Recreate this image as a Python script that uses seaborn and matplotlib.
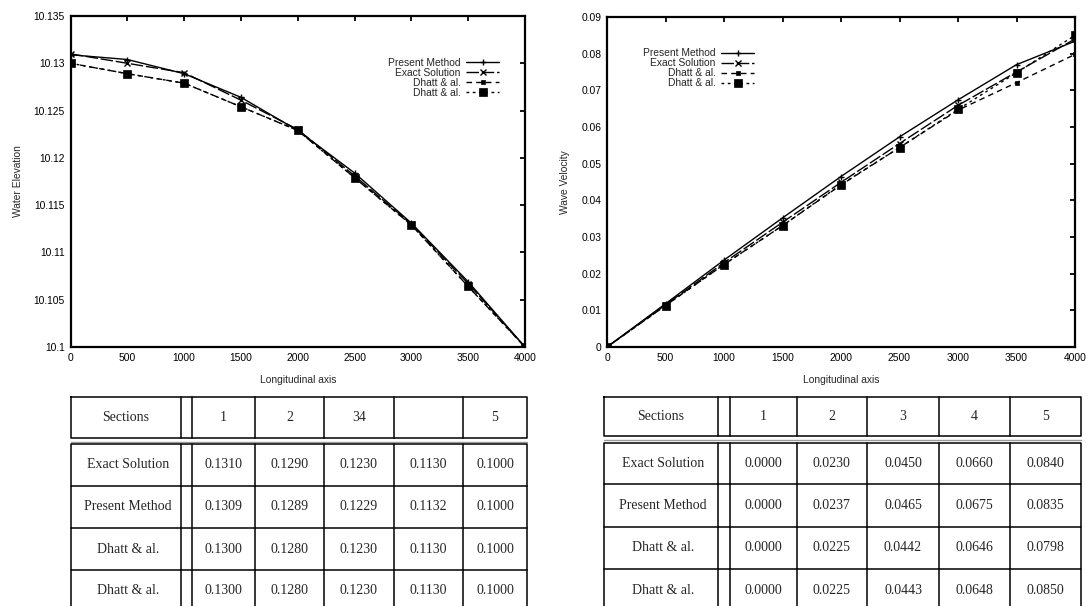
import numpy as np
import pandas as pd
import matplotlib
matplotlib.use("Agg")
import matplotlib.pyplot as plt
import seaborn as sns

# ---------------- data ----------------
x_pos = [0, 500, 1000, 1500, 2000, 2500, 3000, 3500, 4000]

elev_present = [10.1309, 10.1304, 10.1289, 10.1264, 10.1229, 10.1184, 10.1131, 10.1069, 10.1000]
elev_exact = [10.1310, 10.1300, 10.1290, 10.1261, 10.1230, 10.1181, 10.1130, 10.1067, 10.1000]
elev_dhatt1 = [10.1300, 10.1289, 10.1279, 10.1254, 10.1229, 10.1179, 10.1129, 10.1064, 10.1000]
elev_dhatt2 = [10.1300, 10.1289, 10.1279, 10.1254, 10.1229, 10.1179, 10.1129, 10.1064, 10.1000]

vel_present = [0.0, 0.0118, 0.0237, 0.0352, 0.0465, 0.0573, 0.0674, 0.0770, 0.0834]
vel_exact = [0.0, 0.0115, 0.0230, 0.0340, 0.0449, 0.0555, 0.0659, 0.0750, 0.0840]
vel_dhatt1 = [0.0, 0.0113, 0.0225, 0.0331, 0.0442, 0.0544, 0.0646, 0.0721, 0.0798]
vel_dhatt2 = [0.0, 0.0113, 0.0225, 0.0331, 0.0443, 0.0544, 0.0648, 0.0748, 0.0850]

series_names = ["Present Method", "Exact Solution", "Dhatt & al.", "Dhatt & al."]

x_ticks = [0, 500, 1000, 1500, 2000, 2500, 3000, 3500, 4000]
elev_ticks = [10.1, 10.105, 10.11, 10.115, 10.12, 10.125, 10.13, 10.135]
elev_tick_labels = ["10.1", "10.105", "10.11", "10.115", "10.12", "10.125", "10.13", "10.135"]
vel_ticks = [0, 0.01, 0.02, 0.03, 0.04, 0.05, 0.06, 0.07, 0.08, 0.09]
vel_tick_labels = ["0", "0.01", "0.02", "0.03", "0.04", "0.05", "0.06", "0.07", "0.08", "0.09"]

# tables
table_row_labels = ["Exact Solution", "Present Method", "Dhatt & al.", "Dhatt & al."]
left_headers = ["1", "2", "34", "", "5"]
left_values = [
    ["0.1310", "0.1290", "0.1230", "0.1130", "0.1000"],
    ["0.1309", "0.1289", "0.1229", "0.1132", "0.1000"],
    ["0.1300", "0.1280", "0.1230", "0.1130", "0.1000"],
    ["0.1300", "0.1280", "0.1230", "0.1130", "0.1000"],
]
right_headers = ["1", "2", "3", "4", "5"]
right_values = [
    ["0.0000", "0.0230", "0.0450", "0.0660", "0.0840"],
    ["0.0000", "0.0237", "0.0465", "0.0675", "0.0835"],
    ["0.0000", "0.0225", "0.0442", "0.0646", "0.0798"],
    ["0.0000", "0.0225", "0.0443", "0.0648", "0.0850"],
]

# ---------------- style ----------------
sns.set_style("white")
plt.rcParams["font.family"] = ["Liberation Sans", "DejaVu Sans"]

W, H = 1087, 606
fig = plt.figure(figsize=(W / 100, H / 100), dpi=100)


def px_axes(x0, y0, x1, y1):
    return fig.add_axes([x0 / W, 1 - y1 / H, (x1 - x0) / W, (y1 - y0) / H])


styles = [
    dict(linestyle="-", marker="+", markersize=5, mew=1.0),
    dict(linestyle=(0, (9, 2)), marker="x", markersize=4, mew=1.0),
    dict(linestyle=(0, (4, 3)), marker="s", markersize=3.5, mew=0.5),
    dict(linestyle=(0, (2, 2.5)), marker="s", markersize=6, mew=0.5),
]

FS = 7.4


def draw_plot(ax, ys, yticks, ylabels, ylim, ylabel, legend_anchor):
    for name, y, st in zip(series_names, ys, styles):
        df = pd.DataFrame({"x": x_pos, "y": y})
        sns.lineplot(data=df, x="x", y="y", ax=ax, color="black", lw=1.0,
                     label=name, markeredgecolor="black", markerfacecolor="black",
                     **st)
    ax.set_xlim(0, 4000)
    ax.set_ylim(*ylim)
    ax.set_xticks(x_ticks)
    ax.set_xticklabels([str(t) for t in x_ticks])
    ax.set_yticks(yticks)
    ax.set_yticklabels(ylabels)
    ax.tick_params(direction="in", top=True, right=True, length=3.5, width=1.3,
                   labelsize=FS, pad=4, colors="black")
    for sp in ax.spines.values():
        sp.set_linewidth(1.6)
        sp.set_color("black")
    ax.set_xlabel("Longitudinal axis", fontsize=FS, labelpad=9)
    ax.set_ylabel(ylabel, fontsize=FS, labelpad=8)
    ax.legend(loc="upper right", bbox_to_anchor=legend_anchor,
              bbox_transform=fig.transFigure, frameon=False, fontsize=FS,
              markerfirst=False, handlelength=3.2, handletextpad=0.55,
              labelspacing=0.0, borderpad=0, borderaxespad=0)


axL = px_axes(70.5, 16, 525, 347)
draw_plot(axL, [elev_present, elev_exact, elev_dhatt1, elev_dhatt2],
          elev_ticks, elev_tick_labels, (10.1, 10.135), "Water Elevation",
          (499 / W, 1 - 58 / H))

axR = px_axes(607, 17, 1075, 347)
draw_plot(axR, [vel_present, vel_exact, vel_dhatt1, vel_dhatt2],
          vel_ticks, vel_tick_labels, (0, 0.09), "Wave Velocity",
          (754 / W, 1 - 48.5 / H))

# ---------------- tables ----------------
axT = fig.add_axes([0, 0, 1, 1], zorder=-1)
axT.set_xlim(0, W)
axT.set_ylim(H, 0)
axT.axis("off")


def draw_table(edges, hdr, body, headers, values):
    x0, x1 = edges[0], edges[-1]
    lw = 1.1
    # header box
    axT.plot([x0, x1, x1, x0, x0], [hdr[0], hdr[0], hdr[1], hdr[1], hdr[0]],
             color="black", lw=lw, solid_capstyle="projecting")
    for e in edges[1:-1]:
        axT.plot([e, e], [hdr[0], hdr[1]], color="black", lw=lw)
    # body
    axT.plot([x0, x1], [body[0] - 2.5, body[0] - 2.5], color="#9a9a9a", lw=1.0)
    axT.plot([x0, x0, x1, x1], [body[-1], body[0], body[0], body[-1]],
             color="black", lw=lw, solid_capstyle="projecting")
    for b in body[1:-1]:
        axT.plot([x0, x1], [b, b], color="black", lw=lw)
    for e in edges[1:-1]:
        axT.plot([e, e], [body[0], body[-1]], color="black", lw=lw)

    tkw = dict(ha="center", va="center", fontsize=10, family=["Liberation Serif"])
    axT.text((edges[0] + edges[1]) / 2, (hdr[0] + hdr[1]) / 2, "Sections", **tkw)
    for j, h in enumerate(headers):
        axT.text((edges[j + 2] + edges[j + 3]) / 2, (hdr[0] + hdr[1]) / 2, h, **tkw)
    for i, (lab, row) in enumerate(zip(table_row_labels, values)):
        yc = (body[i] + body[i + 1]) / 2
        axT.text((edges[0] + edges[1]) / 2 + 2, yc, lab, **tkw)
        for j, v in enumerate(row):
            axT.text((edges[j + 2] + edges[j + 3]) / 2, yc, v, **tkw)


draw_table([70.6, 180.8, 191.8, 254.8, 324.4, 393.6, 463.2, 526.9],
           (396.7, 438.3), [444.0, 485.7, 528.3, 570.0, 612],
           left_headers, left_values)
draw_table([603.9, 718, 730.2, 796.5, 867.3, 938.8, 1010.4, 1080.8],
           (396.7, 435.7), [442.7, 484.3, 526.7, 569.0, 611],
           right_headers, right_values)

fig.savefig("out.png", dpi=100)
